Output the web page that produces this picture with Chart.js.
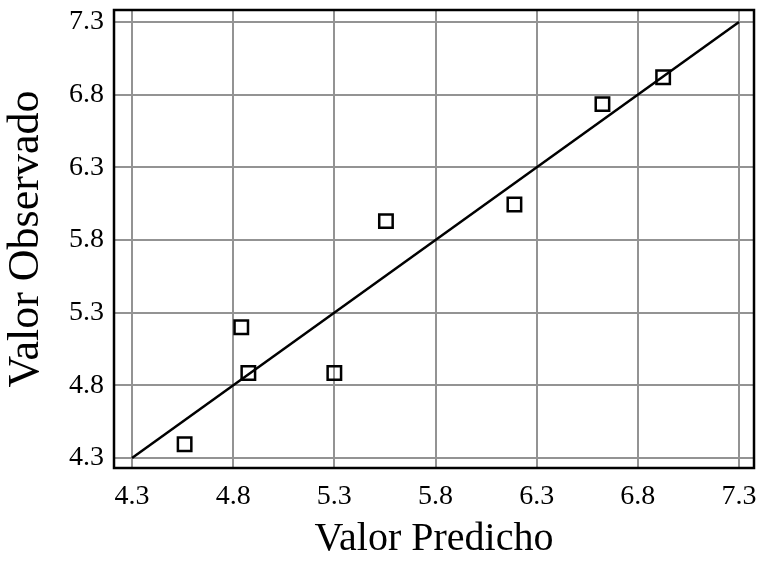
<!DOCTYPE html>
<html>
<head>
<meta charset="utf-8">
<script src="https://cdn.jsdelivr.net/npm/chart.js@4"></script>
<style>
  html, body { margin: 0; padding: 0; background: #fff; }
  #wrap { width: 758px; height: 563px; }
</style>
</head>
<body>
<div id="wrap"><canvas id="chart" width="758" height="563"></canvas></div>
<script>
// values
const predicho = [4.56, 4.84, 4.875, 5.30, 5.555, 6.19, 6.625, 6.925];
const observado = [4.395, 5.20, 4.885, 4.885, 5.93, 6.045, 6.735, 6.92];
const lineaX = [4.3, 7.3];
const lineaY = [4.3, 7.3];
const ticksX = [4.3, 4.8, 5.3, 5.8, 6.3, 6.8, 7.3];
const ticksY = [4.3, 4.8, 5.3, 5.8, 6.3, 6.8, 7.3];

const serif = "'Liberation Serif', 'Times New Roman', serif";

// black frame round the plot
const frame = {
    id: "frame",
    afterDraw(chart) {
        const a = chart.chartArea;
        const ctx = chart.ctx;
        ctx.save();
        ctx.strokeStyle = "#000";
        ctx.lineWidth = 2.5;
        ctx.strokeRect(a.left, a.top, a.right - a.left, a.bottom - a.top);
        ctx.restore();
    }
};

function noPad(s) {
    s.paddingTop = 0;
    s.paddingBottom = 0;
    s.paddingLeft = 0;
    s.paddingRight = 0;
}

new Chart(document.getElementById("chart"), {
    data: {
        datasets: [
            {
                type: "line",
                data: lineaX.map((x, i) => ({ x: x, y: lineaY[i] })),
                borderColor: "#000",
                borderWidth: 2.5,
                pointRadius: 0,
                order: 2
            },
            {
                type: "scatter",
                data: predicho.map((x, i) => ({ x: x, y: observado[i] })),
                pointStyle: "rect",
                pointRadius: 9.5,
                borderColor: "#000",
                backgroundColor: "rgba(255,255,255,0)",
                borderWidth: 2.5,
                order: 1
            }
        ]
    },
    options: {
        responsive: false,
        animation: false,
        layout: { autoPadding: false, padding: { top: 10, right: 4, left: 0, bottom: 0 } },
        plugins: { legend: { display: false }, tooltip: { enabled: false } },
        scales: {
            x: {
                type: "linear",
                min: 4.211,
                max: 7.374,
                afterBuildTicks: s => { s.ticks = ticksX.map(v => ({ value: v })); },
                afterFit: s => { s.height = 95; noPad(s); },
                grid: { color: "#939393", lineWidth: 2, drawTicks: false },
                border: { display: false },
                ticks: {
                    color: "#000",
                    padding: 12,
                    maxRotation: 0,
                    font: { family: serif, size: 28 },
                    callback: v => v.toFixed(1)
                },
                title: {
                    display: true,
                    text: "Valor Predicho",
                    color: "#000",
                    font: { family: serif, size: 40 },
                    padding: { top: 0, bottom: 0 }
                }
            },
            y: {
                type: "linear",
                min: 4.231,
                max: 7.383,
                afterBuildTicks: s => { s.ticks = ticksY.map(v => ({ value: v })); },
                afterFit: s => { s.width = 114; noPad(s); },
                grid: { color: "#939393", lineWidth: 2, drawTicks: false },
                border: { display: false },
                ticks: {
                    color: "#000",
                    padding: 10,
                    font: { family: serif, size: 28 },
                    callback: v => v.toFixed(1)
                },
                title: {
                    display: true,
                    text: "Valor Observado",
                    color: "#000",
                    font: { family: serif, size: 44 },
                    padding: { top: 0, bottom: 0 }
                }
            }
        }
    },
    plugins: [frame]
});
</script>
</body>
</html>
